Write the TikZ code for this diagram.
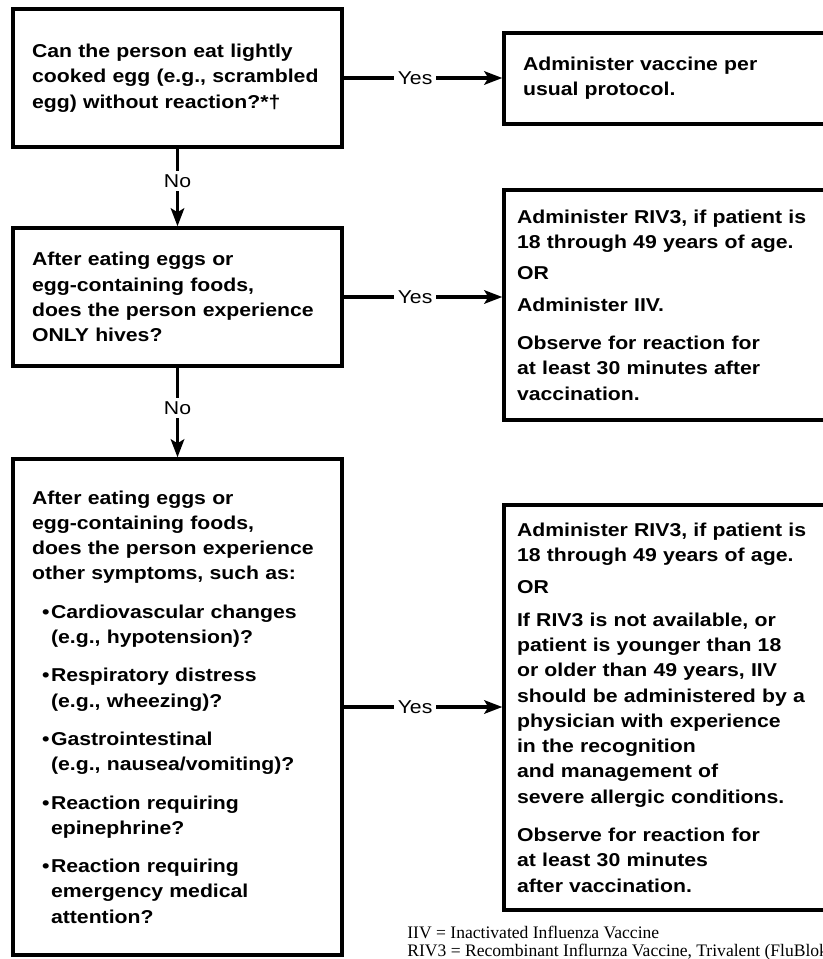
\documentclass[tikz,border=0pt]{standalone}
\usepackage{fontspec}
\setmainfont{Liberation Sans}[FakeStretch=1.14]
\newfontfamily\notefont{Liberation Serif}
\usetikzlibrary{arrows.meta,positioning}
\newcommand{\bitem}{\hspace*{0.2cm}\makebox[0.18cm][l]{\textbullet}}
\newcommand{\bcont}{\hspace*{0.38cm}}

\begin{document}
\begin{tikzpicture}[x=0.02cm, y=-0.02cm,
  font=\fontsize{10.6}{14.4}\selectfont,
  box/.style={draw, line width=2pt, inner sep=0pt, align=left,
    font=\fontsize{10.6}{14.4}\selectfont\bfseries},
  qbox/.style={box, minimum width=6.58cm, text width=5.82cm},
  abox/.style={box, minimum width=6.92cm, text width=6.4cm},
  conn/.style={line width=1.8pt, -{Stealth[length=0.36cm,width=0.27cm,inset=0.08cm]}},
  lbl/.style={fill=white, inner sep=2pt},
  fnote/.style={anchor=base west, inner sep=0pt, font=\notefont\fontsize{10}{10.5}\selectfont}]
\useasboundingbox (0,0) rectangle (822,959);
% questions
\node[qbox, minimum height=2.76cm] (q1) at (177.5,78) {Can the person eat lightly\\
  cooked egg (e.g., scrambled\\ egg) without reaction?*†};
\node[qbox, minimum height=2.76cm] (q2) at (177.5,297) {After eating eggs or\\
  egg-containing foods,\\ does the person experience\\ ONLY hives?};
\node[qbox, minimum height=9.92cm] (q3) at (177.5,707) {After eating eggs or\\
  egg-containing foods,\\ does the person experience\\ other symptoms, such as:\\[0.26cm]
  \bitem Cardiovascular changes\\ \bcont(e.g., hypotension)?\\[0.26cm]
  \bitem Respiratory distress\\ \bcont(e.g., wheezing)?\\[0.26cm]
  \bitem Gastrointestinal\\ \bcont(e.g., nausea/vomiting)?\\[0.26cm]
  \bitem Reaction requiring\\ \bcont epinephrine?\\[0.26cm]
  \bitem Reaction requiring\\ \bcont emergency medical\\ \bcont attention?};
% actions
\node[abox, minimum height=1.82cm, text width=6.16cm] (a1) at (677,78.5) {Administer vaccine per\\
  usual protocol.};
\node[abox, minimum height=4.6cm] (a2) at (677,305) {Administer RIV3, if patient is\\
  18 through 49 years of age.\\[0.12cm] OR\\[0.12cm] Administer IIV.\\[0.26cm]
  Observe for reaction for\\ at least 30 minutes after\\ vaccination.};
\node[abox, minimum height=8.1cm] (a3) at (677,707.5) {Administer RIV3, if patient is\\
  18 through 49 years of age.\\[0.14cm] OR\\[0.14cm] If RIV3 is not available, or\\
  patient is younger than 18\\ or older than 49 years, IIV\\ should be administered by a\\
  physician with experience\\ in the recognition\\ and management of\\
  severe allergic conditions.\\[0.26cm] Observe for reaction for\\ at least 30 minutes\\
  after vaccination.};
% connectors
\draw[conn] (q1.south) -- node[lbl, pos=0.42] (n1) {No} (q2.north);
\draw[conn] (q2.south) -- node[lbl, pos=0.45] (n2) {No} (q3.north);
\draw[conn] (q1.east) -- node[lbl, pos=0.45] (y1) {Yes} (q1.east -| a1.west);
\draw[conn] (q2.east) -- node[lbl, pos=0.45] (y2) {Yes} (q2.east -| a2.west);
\draw[conn] (q3.east) -- node[lbl, pos=0.45] (y3) {Yes} (q3.east -| a3.west);
% footnote
\node[fnote] (fn1) at (407,938) {IIV = Inactivated Influenza Vaccine};
\node[fnote] (fn2) at (407,956.7) {RIV3 = Recombinant Influrnza Vaccine, Trivalent (FluBlok)};
\end{tikzpicture}
\end{document}
